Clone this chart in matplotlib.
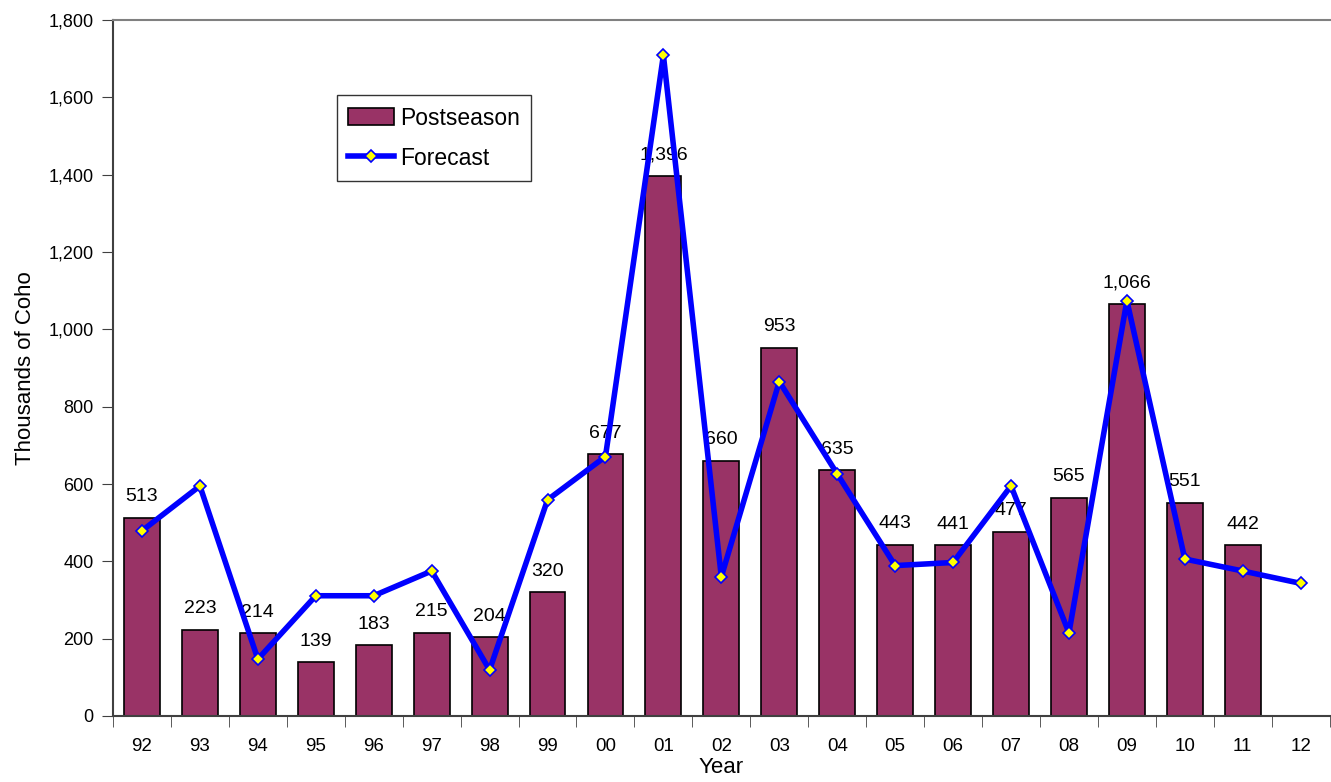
import numpy as np
import matplotlib.pyplot as plt
from matplotlib.ticker import FuncFormatter, FixedLocator

plt.rcParams['font.family'] = ['Liberation Sans', 'DejaVu Sans']

years = ['92', '93', '94', '95', '96', '97', '98', '99', '00', '01', '02',
         '03', '04', '05', '06', '07', '08', '09', '10', '11', '12']
# postseason estimates (no bar for 12)
postseason = [513, 223, 214, 139, 183, 215, 204, 320, 677, 1396, 660,
              953, 635, 443, 441, 477, 565, 1066, 551, 442]
forecast = [479, 595, 147, 311, 311, 375, 119, 559, 671, 1709, 360,
            865, 626, 389, 397, 595, 215, 1074, 406, 375, 343]

x = np.arange(len(years))
xb = x[:len(postseason)]

fig = plt.figure(figsize=(13.31, 7.82), dpi=100)
ax = fig.add_axes([0.0849, 0.0844, 0.9141, 0.89])

bars = ax.bar(xb, postseason, width=0.62, color='#993366', edgecolor='black',
              linewidth=1.2, label='Postseason', zorder=2)
line, = ax.plot(x, forecast, color='#0000FF', linewidth=4, marker='D', markersize=6,
                markerfacecolor='#FFFF00', markeredgecolor='#0000FF', markeredgewidth=1.2,
                label='Forecast', zorder=3)

for xi, v in zip(xb, postseason):
    ax.annotate(f'{v:,}', (xi, v), xytext=(0, 9), textcoords='offset points',
                ha='center', va='bottom', fontsize=14, zorder=1)

ax.set_xlim(-0.5, len(years) - 0.5)
ax.set_ylim(0, 1800)
ax.set_yticks(np.arange(0, 1801, 200))
ax.yaxis.set_major_formatter(FuncFormatter(lambda v, p: f'{int(v):,}'))

ax.set_xticks(x)
ax.set_xticklabels(years)
ax.xaxis.set_minor_locator(FixedLocator(np.arange(-0.5, len(years), 1)))
ax.tick_params(axis='x', which='major', length=0, labelsize=13.5, pad=16)
ax.tick_params(axis='x', which='minor', length=8, direction='out', color='#404040')
ax.tick_params(axis='y', length=8, direction='out', labelsize=13, pad=6, color='#404040')

for s in ['left', 'bottom']:
    ax.spines[s].set_color('#404040')
    ax.spines[s].set_linewidth(1.5)
ax.spines['top'].set_color('#808080')
ax.spines['top'].set_linewidth(1.5)
ax.spines['right'].set_visible(False)

ax.set_xlabel('Year', fontsize=16, labelpad=1)
ax.set_ylabel('Thousands of Coho', fontsize=16, labelpad=9)

leg = ax.legend([bars, line], ['Postseason', 'Forecast'], loc='upper left',
                bbox_to_anchor=(0.184, 0.892), fontsize=16.5,
                frameon=True, fancybox=False, edgecolor='black', borderpad=0.5,
                handlelength=2.0, handleheight=0.8, labelspacing=0.75, handletextpad=0.25,
                borderaxespad=0)
leg.get_frame().set_linewidth(1.0)

fig.savefig('out.png', dpi=100)
